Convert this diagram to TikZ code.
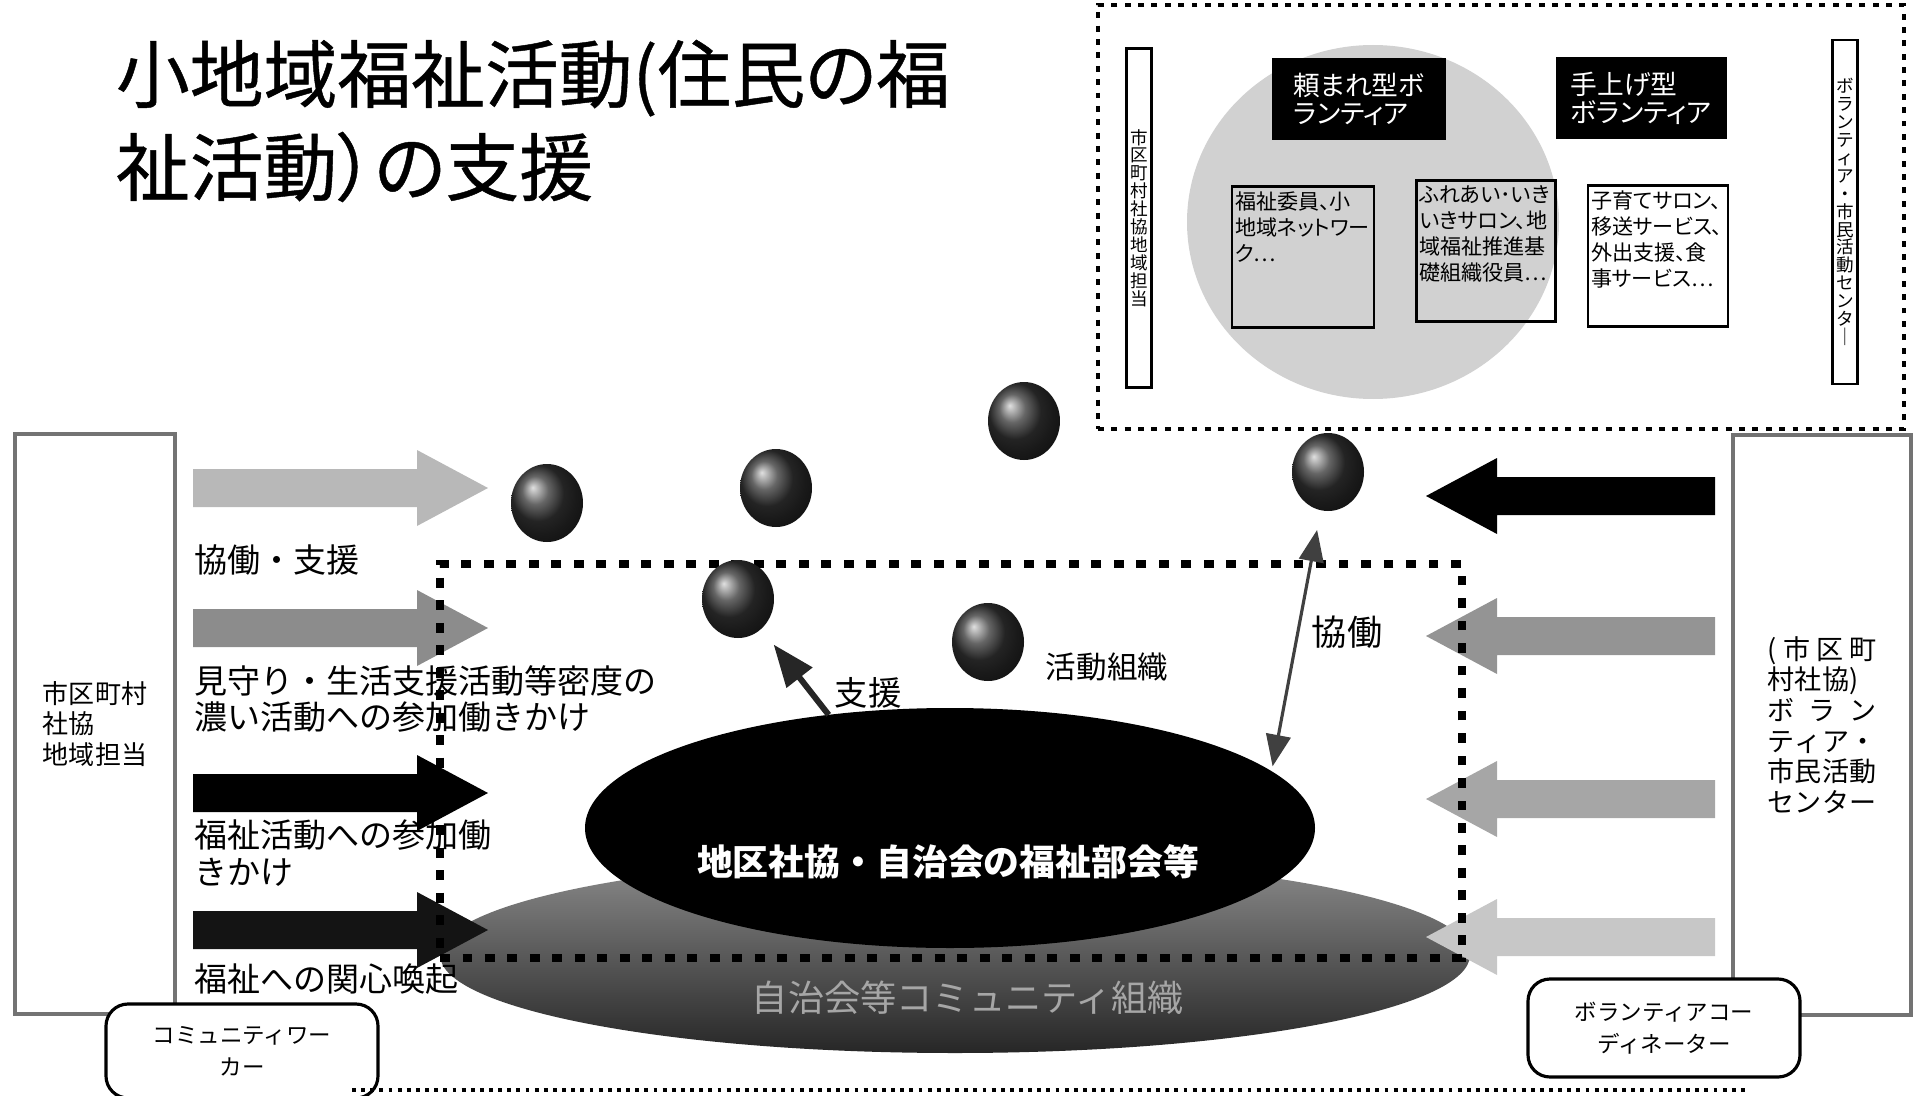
\documentclass[tikz,border=0pt]{standalone}
\usepackage{fontspec}
\setmainfont{Noto Sans CJK JP}
\newfontfamily\pfont{Noto Sans CJK JP}[RawFeature=+palt]
\newfontfamily\titlefont{Noto Sans CJK JP}[RawFeature=+palt,FakeBold=0.6]
\usepackage{tikz}
\usetikzlibrary{arrows.meta,positioning,shapes.geometric}

\newcommand{\sprd}[1]{\makebox[4em][s]{#1}}

\begin{document}
\begin{tikzpicture}[x=0.1mm,y=-0.1mm,>={Triangle[length=9pt,width=7pt]},semithick]
\tikzstyle{every node}=[inner sep=0pt,outer sep=0pt]
\tikzstyle{orb}=[ellipse,minimum width=7.2mm,minimum height=7.8mm,shading=ball,ball color=black!80]
\tikzstyle{bigbox}=[draw=black!55,line width=1.1pt,minimum width=16mm,minimum height=58mm,align=left]
\tikzstyle{roundbox}=[draw,line width=0.9pt,rounded corners=2.2mm,fill=white,minimum width=27.2mm,align=center,font=\fontsize{6.4}{9}\selectfont]
\tikzstyle{lbl}=[anchor=west,align=left,font=\fontsize{9.4}{10.5}\selectfont]
\tikzstyle{tagbox}=[fill=black,text=white,minimum height=8.2mm,align=left,font=\pfont\fontsize{7.6}{8}\selectfont]
\tikzstyle{memo}=[draw,line width=0.7pt,minimum height=14.1mm]
\tikzstyle{memotext}=[anchor=north west,align=left,font=\pfont\fontsize{6}{7.4}\selectfont]
\tikzstyle{tate}=[draw,line width=0.6pt,minimum width=2.5mm,align=center,font=\fontsize{5}{5.1}\selectfont]

\useasboundingbox (0,0) rectangle (1915,1096);

% title
\node[anchor=base west,font=\titlefont\fontsize{21}{26}\selectfont] (title1) at (116,102) {小地域福祉活動(住民の福};
\node[anchor=base west,font=\titlefont\fontsize{21}{26}\selectfont] (title2) at (116,195) {祉活動）の支援};

% volunteer frame
\node[draw,line width=1.4pt,dash pattern=on 1.7pt off 2.1pt,minimum width=80.6mm,minimum height=42.4mm] (vframe) at (1501,217) {};
\node[ellipse,fill=black!18,minimum width=37.2mm,minimum height=35.4mm] (pool) at (1373,222) {};
\node[tate,minimum height=33.9mm] (vleft) at (1139,218) {市\\区\\町\\村\\社\\協\\地\\域\\担\\当};
\node[tate,minimum height=34.4mm] (vright) at (1845,212) {ボ\\ラ\\ン\\テ\\ィ\\ア\\・\\市\\民\\活\\動\\セ\\ン\\タ\\｜};
\node[tagbox,minimum width=17.4mm] (tanomare) at (1359,99) {頼まれ型ボ\\ランティア};
\node[tagbox,minimum width=17.1mm] (teage) at (1641,98) {手上げ型\\ボランティア};
\node[memo,minimum width=14.2mm] (memo1) at (1303,257) {};
\node[memo,minimum width=13.9mm] (memo2) at (1486,251) {};
\node[memo,fill=white,minimum width=14mm] (memo3) at (1658,256) {};
\node[memotext] (memo1t) at ([shift={(3,5)}]memo1.north west) {福祉委員、小\\地域ネットワー\\ク…};
\node[memotext] (memo2t) at ([shift={(3,5)}]memo2.north west) {ふれあい･いき\\いきサロン、地\\域福祉推進基\\礎組織役員…};
\node[memotext] (memo3t) at ([shift={(3,5)}]memo3.north west) {子育てサロン、\\移送サービス、\\外出支援、食\\事サービス…};

% community
\node[ellipse,top color=black!45,bottom color=black!85,minimum width=103mm,minimum height=19.6mm] (comm) at (955,955) {};
\node[text=black!35,font=\fontsize{10.3}{12}\selectfont] (commtext) at (968,998) {自治会等コミュニティ組織};

% block arrows
\foreach \y/\c in {488/black!28,628/black!45,793/black,930/black!92}
  \fill[\c] (193,\y-19) -- (417,\y-19) -- (417,\y-38) -- (488,\y) -- (417,\y+38) -- (417,\y+19) -- (193,\y+19) -- cycle;
\foreach \y/\c in {496/black,636/black!42,799/black!35,937/black!22}
  \fill[\c] (1715,\y-19) -- (1497,\y-19) -- (1497,\y-38) -- (1426,\y) -- (1497,\y+38) -- (1497,\y+19) -- (1715,\y+19) -- cycle;

\node[bigbox,font=\fontsize{7.4}{8.8}\selectfont] (leftorg) at (95,724) {市区町村\\社協\\地域担当};
\node[bigbox,minimum width=17.8mm,font=\fontsize{7.7}{8.7}\selectfont] (rightorg) at (1822,725)
  {\sprd{(\hfil 市\hfil 区\hfil 町}\\村社協)\\\sprd{ボ\hfil ラ\hfil ン}\\\sprd{テ\hfil ィ\hfil ア\hfil ・}\\市民活動\\センター};
\node[roundbox,minimum height=9.4mm] (cworker) at (242,1051) {コミュニティワー\\カー};
\node[roundbox,minimum height=9.8mm] (vcoord) at (1664,1028) {ボランティアコー\\ディネーター};

\node[lbl] (l1) at (194,560) {協働・支援};
\node[lbl] (l2) at (194,699) {見守り・生活支援活動等密度の\\濃い活動への参加働きかけ};
\node[lbl] (l3) at (194,853) {福祉活動への参加働\\きかけ};
\node[lbl] (l4) at (194,979) {福祉への関心喚起};

% district
\node[draw,line width=2.4pt,dash pattern=on 2.8pt off 3.6pt,minimum width=102.2mm,minimum height=39.4mm] (area) at (951,761) {};
\node[ellipse,fill=black,minimum width=73mm,minimum height=24mm] (kuku) at (950,828) {};
\node[text=white,font=\bfseries\fontsize{10.2}{12}\selectfont] (kukutext) at (948,862) {地区社協・自治会の福祉部会等};

\node[orb] (b1) at (547,503) {};
\node[orb] (b2) at (776,488) {};
\node[orb] (b3) at (1024,421) {};
\node[orb] (b4) at (1328,472) {};
\node[orb] (b5) at (738,599) {};
\node[orb] (b6) at (988,642) {};

\draw[->,line width=1.7pt,black!85,shorten >=2mm,>={Triangle[length=12pt,width=9pt]}] (kuku.137) -- (b5);
\draw[<->,line width=0.9pt,black!75,shorten <=2mm,shorten >=0.5mm] (b4) -- (kuku.10);

\node[font=\fontsize{9.5}{11}\selectfont] (shien) at (868,693) {支援};
\node[font=\fontsize{10}{12}\selectfont] (kyodo) at (1347,632) {協働};
\node[font=\fontsize{8.7}{10}\selectfont] (katsudo) at (1107,667) {活動組織};

\draw[line width=1.1pt,dash pattern=on 1.1pt off 1.5pt] (352,1090) -- (1745,1090);
\end{tikzpicture}
\end{document}
